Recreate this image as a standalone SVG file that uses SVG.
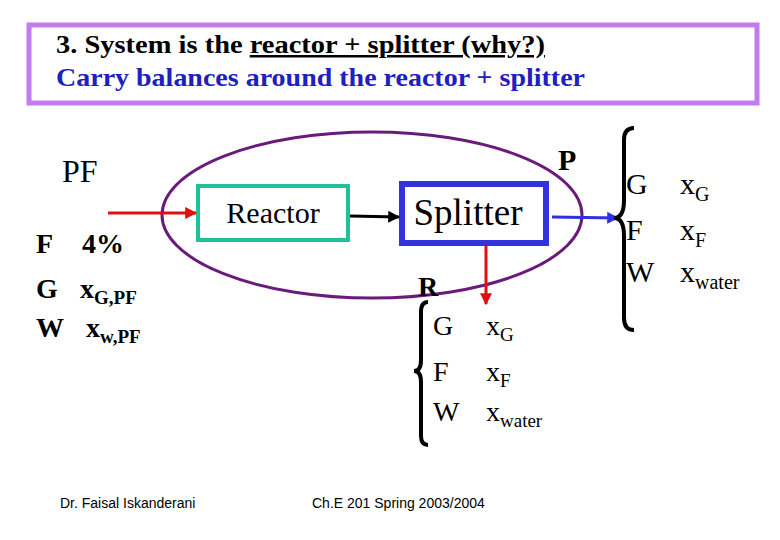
<svg xmlns="http://www.w3.org/2000/svg" width="780" height="540" viewBox="0 0 780 540">
<style>
text{font-family:'Liberation Serif','Times New Roman',serif}
.b{font-weight:bold}
.br{fill:none;stroke:#000;stroke-width:4}
.f{font-family:'Liberation Sans Narrow','Liberation Sans',sans-serif}
</style>
<defs>
<marker id="aR" viewBox="0 0 10 10" refX="9" refY="5" markerWidth="4" markerHeight="4" orient="auto"><path d="M0,0L10,5L0,10z" fill="#e01010"/></marker>
<marker id="aK" viewBox="0 0 10 10" refX="9" refY="5" markerWidth="4" markerHeight="4" orient="auto"><path d="M0,0L10,5L0,10z" fill="#000"/></marker>
<marker id="aB" viewBox="0 0 10 10" refX="9" refY="5" markerWidth="4" markerHeight="4" orient="auto"><path d="M0,0L10,5L0,10z" fill="#3030e0"/></marker>
</defs>
<rect width="780" height="540" fill="#fff"/>
<g id="title">
<rect x="29" y="25" width="728" height="78" fill="none" stroke="#c27cf2" stroke-width="5"/>
<text x="56" y="53" class="b" font-size="25" textLength="489" lengthAdjust="spacingAndGlyphs">3. System is the <tspan text-decoration="underline">reactor + splitter  (why?)</tspan></text>
<text x="56" y="86" class="b" font-size="25" fill="#2020c0" textLength="529" lengthAdjust="spacingAndGlyphs">Carry balances around the reactor + splitter</text>
</g>
<g id="system"><ellipse cx="372" cy="215" rx="210" ry="83" fill="none" stroke="#6a1a7a" stroke-width="3"/></g>
<g id="reactor"><rect x="198" y="186" width="150" height="54" fill="#fff" stroke="#20c09a" stroke-width="4"/><text x="273" y="223" text-anchor="middle" font-size="30">Reactor</text></g>
<g id="splitter"><rect x="402" y="184" width="144" height="59" fill="#fff" stroke="#3333dd" stroke-width="6"/><text x="468" y="225" text-anchor="middle" font-size="37">Splitter</text></g>
<g id="connectors" stroke-width="3">
<line x1="108" y1="213" x2="196" y2="213" stroke="#e01010" marker-end="url(#aR)"/>
<line x1="350" y1="216" x2="399" y2="217" stroke="#000" marker-end="url(#aK)"/>
<line x1="552" y1="217" x2="618" y2="218" stroke="#3030e0" marker-end="url(#aB)"/>
<line x1="486" y1="246" x2="486" y2="304" stroke="#e01010" marker-end="url(#aR)"/>
</g>
<g id="feed">
<text x="62" y="182" font-size="32">PF</text>
<text x="36" y="253" class="b" font-size="28">F</text><text x="82" y="253" class="b" font-size="28">4%</text>
<text x="36" y="298" class="b" font-size="28">G</text><text x="80" y="298" class="b" font-size="28">x<tspan font-size="19" dy="6">G,PF</tspan></text>
<text x="36" y="337" class="b" font-size="28">W</text><text x="86" y="337" class="b" font-size="28">x<tspan font-size="19" dy="6">w,PF</tspan></text>
</g>
<g id="product">
<text x="558" y="170" class="b" font-size="30">P</text>
<path class="br" d="M634,128 Q624,128 624,140 V200 Q624,218 614,218 Q624,218 624,236 V318 Q624,330 634,330"/>
<text x="626" y="194" font-size="30">G</text>
<text x="626" y="240" font-size="30">F</text>
<text x="626" y="282" font-size="30">W</text>
<text x="680" y="194" font-size="30">x<tspan font-size="20" dy="7">G</tspan></text>
<text x="680" y="240" font-size="30">x<tspan font-size="20" dy="7">F</tspan></text>
<text x="680" y="282" font-size="30">x<tspan font-size="20" dy="7">water</tspan></text>
</g>
<g id="recycle">
<text x="418" y="296" class="b" font-size="28">R</text>
<path class="br" d="M428,302 Q421,302 421,312 V360 Q421,371 414,371 Q421,371 421,382 V436 Q421,445 428,445"/>
<text x="433" y="335" font-size="28">G</text>
<text x="433" y="381" font-size="28">F</text>
<text x="433" y="421" font-size="28">W</text>
<text x="486" y="335" font-size="28">x<tspan font-size="19" dy="6">G</tspan></text>
<text x="486" y="381" font-size="28">x<tspan font-size="19" dy="6">F</tspan></text>
<text x="486" y="421" font-size="28">x<tspan font-size="19" dy="6">water</tspan></text>
</g>
<g id="footer">
<text x="60" y="508" class="f" font-size="14">Dr. Faisal Iskanderani</text>
<text x="312" y="508" class="f" font-size="14">Ch.E 201  Spring 2003/2004</text>
</g>
</svg>
